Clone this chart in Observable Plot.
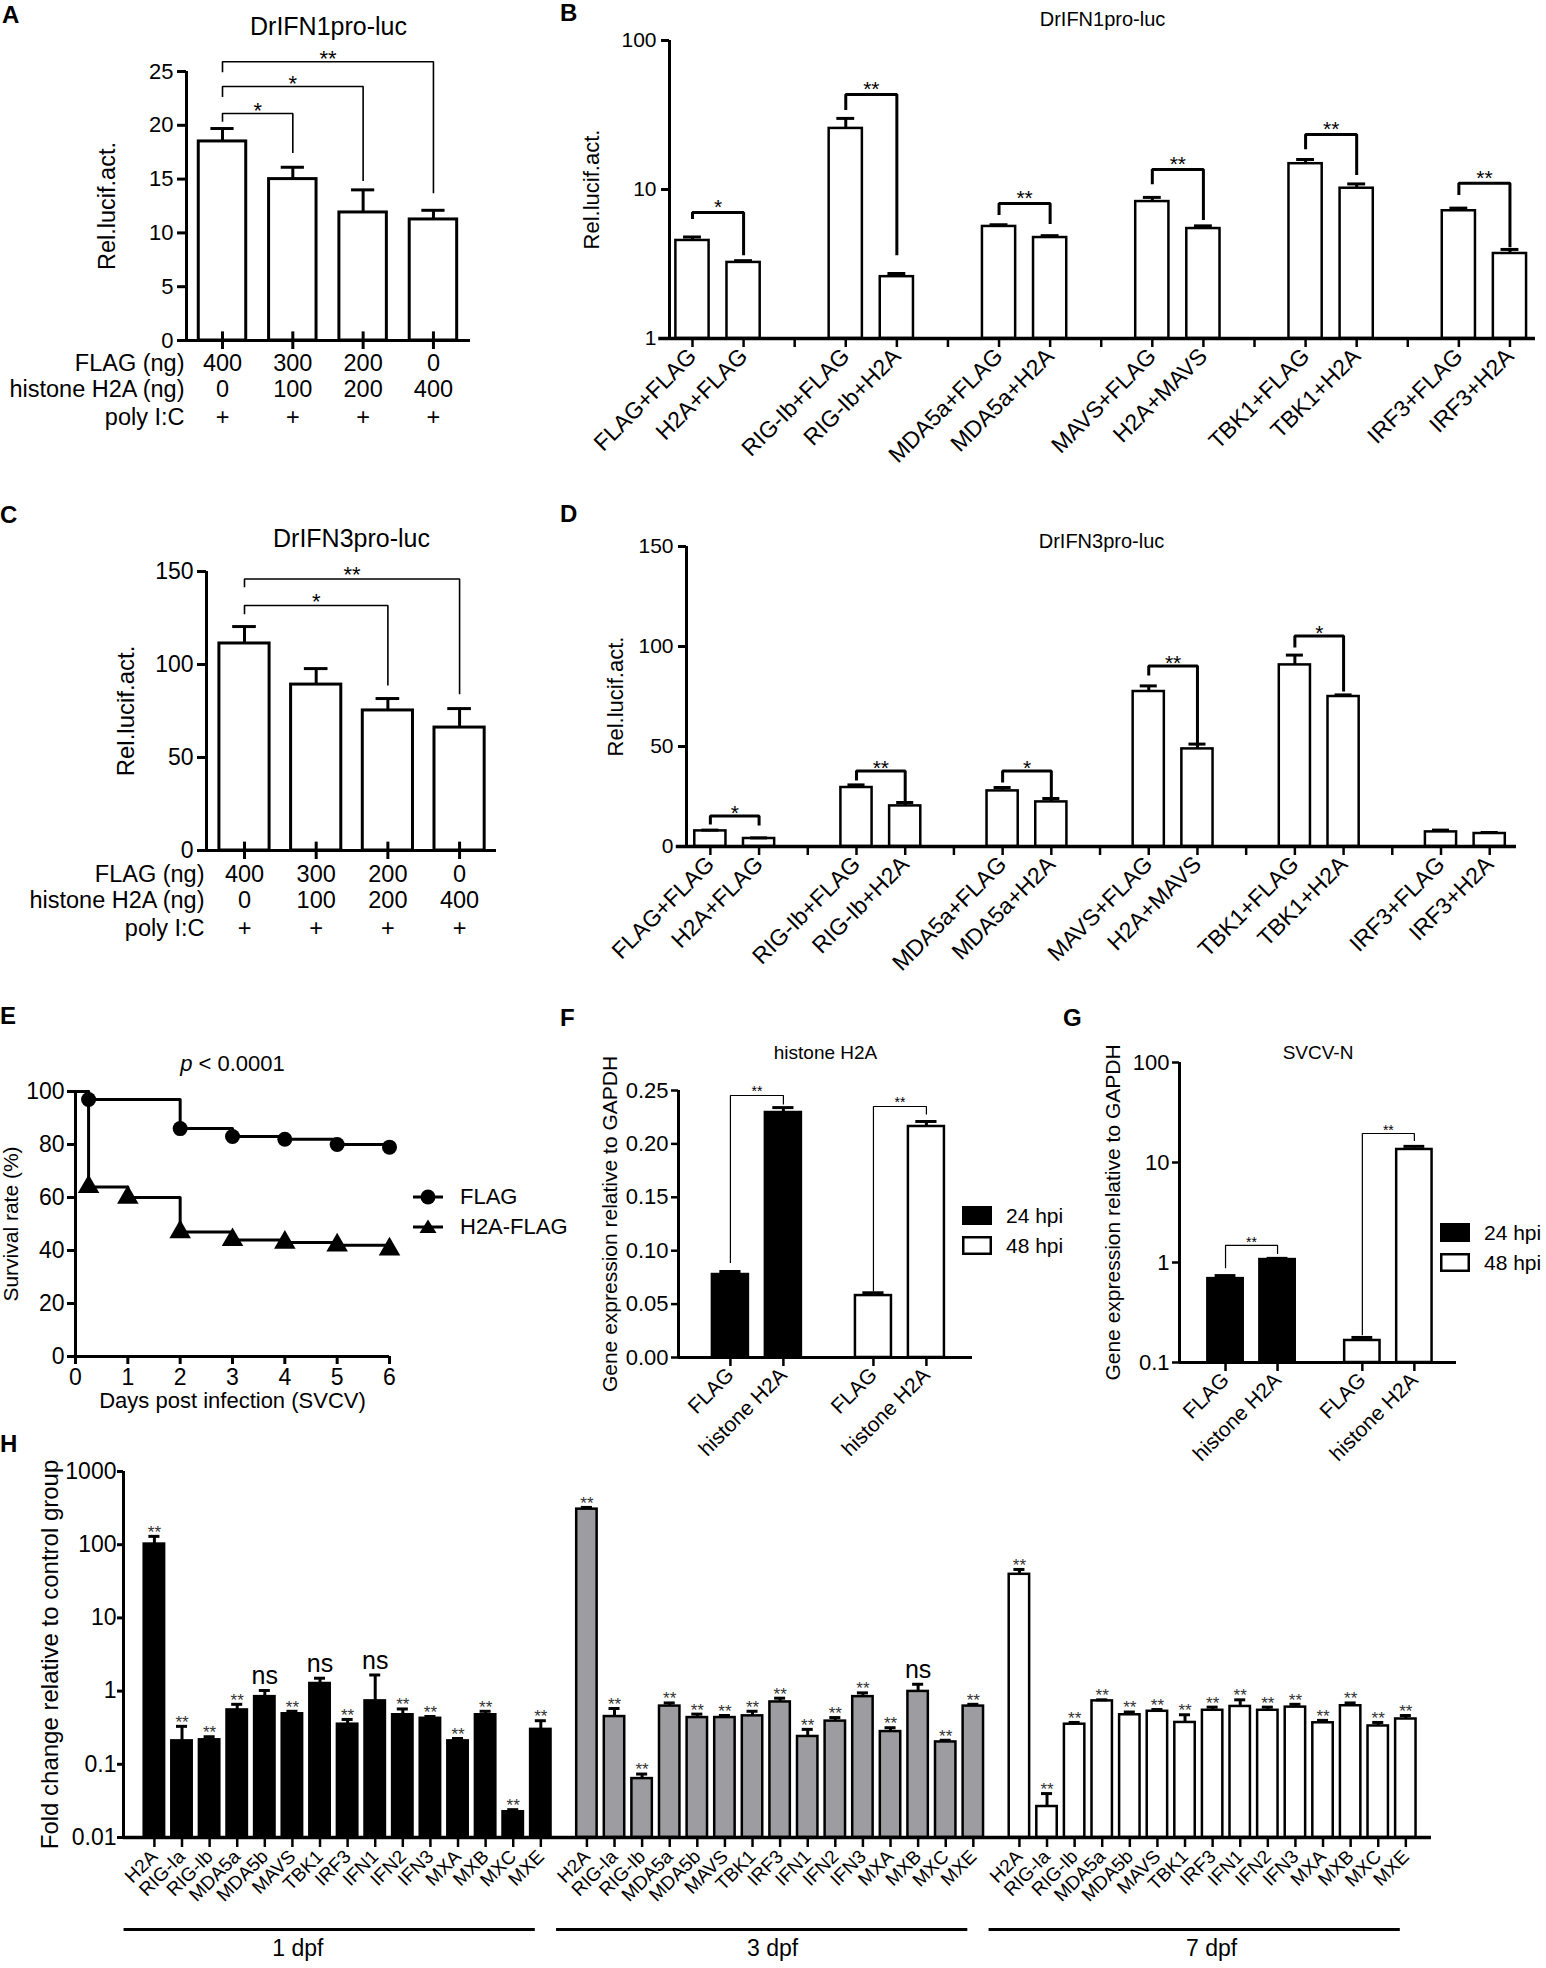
<!DOCTYPE html>
<html>
<head>
<meta charset="utf-8">
<script src="https://cdn.jsdelivr.net/npm/d3@7"></script>
<script src="https://cdn.jsdelivr.net/npm/@observablehq/plot@0.6"></script>
<style>
  html, body { margin: 0; padding: 0; background: #fff; }
  body { width: 1546px; height: 1968px; overflow: hidden; }
  #fig { position: relative; width: 1546px; height: 1968px; overflow: hidden; background: #fff; color: #000; font-family: "Liberation Sans", Arial, sans-serif; }
  #fig > * { position: absolute; }
  .letter { font-weight: bold; font-size: 24px; line-height: 1; }
  .leg { line-height: 1; white-space: nowrap; }
  .leg .row { display: flex; align-items: center; }
</style>
</head>
<body>
<div id="fig"></div>
<script>
const SANS = '"Liberation Sans", Arial, Helvetica, sans-serif';

// ---------------- DATA ----------------
// Panel A / C : dose table
const doseFlag = ["400", "300", "200", "0"];
const doseH2A = ["0", "100", "200", "400"];
const dosePoly = ["+", "+", "+", "+"];
// Panel A (DrIFN1pro-luc)
const aMean = [18.5, 15.0, 11.9, 11.25];
const aErr = [19.7, 16.1, 14.0, 12.1];
const aYTicks = [0, 5, 10, 15, 20, 25];
const aBrTo = [1, 2, 3];
const aBrTop = [21.1, 23.6, 25.9];
const aBrLeft = [20.4, 22.7, 25.0];
const aBrRight = [17.5, 14.9, 13.75];
const aBrLabel = ["*", "*", "**"];
// Panel C (DrIFN3pro-luc)
const cMean = [111.3, 89.2, 75.3, 66.1];
const cErr = [120.4, 97.8, 81.7, 76.3];
const cYTicks = [0, 50, 100, 150];
const cBrTo = [2, 3];
const cBrTop = [131.7, 146];
const cBrLeft = [127.4, 142];
const cBrRight = [89.2, 84.4];
const cBrLabel = ["*", "**"];
// Panels B / D : co-transfection
const lucLabels = ["FLAG+FLAG", "H2A+FLAG", "RIG-Ib+FLAG", "RIG-Ib+H2A", "MDA5a+FLAG", "MDA5a+H2A",
                   "MAVS+FLAG", "H2A+MAVS", "TBK1+FLAG", "TBK1+H2A", "IRF3+FLAG", "IRF3+H2A"];
const bMean = [4.55, 3.24, 25.7, 2.6, 5.65, 4.76, 8.3, 5.47, 14.9, 10.2, 7.2, 3.72];
const bErr = [4.8, 3.33, 30, 2.73, 5.8, 4.9, 8.85, 5.7, 15.9, 10.9, 7.5, 3.96];
const bYTicks = [1, 10, 100];
const bBrTop = [7.0, 43.4, 8.05, 13.6, 23.4, 11.0];
const bBrLeft = [6.5, 35, 6.9, 11.1, 19.1, 9.4];
const bBrRight = [3.7, 3.7, 6.0, 6.4, 12.8, 4.2];
const bBrLabel = ["*", "**", "**", "**", "**", "**"];
const dMean = [7.8, 4.0, 29.5, 20.3, 27.8, 22.3, 77.5, 48.8, 90.8, 75.0, 7.3, 6.5];
const dErr = [8.2, 4.3, 30.8, 22.0, 29.5, 24.0, 80.3, 51.2, 95.7, 75.8, 8.2, 7.0];
const dYTicks = [0, 50, 100, 150];
const dBrTop = [15.3, 37.8, 37.8, 90.3, 105.3];
const dBrLeft = [11.7, 33.7, 32.8, 86.2, 100.3];
const dBrRight = [11.2, 22.8, 23.7, 49.5, 78.2];
const dBrLabel = ["*", "**", "*", "**", "*"];
// Panel E : survival
const eDaysFlag = [0, 0.25, 2, 3, 4, 5, 6];
const eSurvFlag = [100, 97, 86, 83, 82, 80, 79];
const eDaysH2A = [0, 0.25, 1, 2, 3, 4, 5, 6];
const eSurvH2A = [100, 64, 60, 47, 44, 43, 42, 40.5];
const eXTicks = [0, 1, 2, 3, 4, 5, 6];
const eYTicks = [0, 20, 40, 60, 80, 100];
// Panels F / G : qPCR
const qLabels = ["FLAG", "histone H2A", "FLAG", "histone H2A"];
const qTime = ["24 hpi", "24 hpi", "48 hpi", "48 hpi"];
const fMean = [0.0777, 0.2294, 0.058, 0.2163];
const fErr = [0.0805, 0.234, 0.0606, 0.221];
const fYTicks = [0, 0.05, 0.10, 0.15, 0.20, 0.25];
const fBrTop = [0.2453, 0.235];
const fBrLeft = [0.089, 0.0625];
const fBrRight = [0.2375, 0.228];
const gMean = [0.69, 1.07, 0.166, 13.5];
const gErr = [0.74, 1.1, 0.178, 14.5];
const gYTicks = [0.1, 1, 10, 100];
const gBrTop = [1.48, 19.5];
const gBrLeft = [0.89, 0.19];
const gBrRight = [1.23, 16.6];
const qBrLabel = ["**", "**"];
// Panel H : fold change
const hGenes = ["H2A", "RIG-Ia", "RIG-Ib", "MDA5a", "MDA5b", "MAVS", "TBK1", "IRF3", "IFN1", "IFN2", "IFN3", "MXA", "MXB", "MXC", "MXE"];
const hDpf = ["1 dpf", "3 dpf", "7 dpf"];
const h1Mean = [102, 0.209, 0.216, 0.553, 0.84, 0.49, 1.27, 0.353, 0.735, 0.475, 0.425, 0.209, 0.475, 0.0225, 0.30];
const h1Err = [130, 0.33, 0.238, 0.66, 1.02, 0.53, 1.5, 0.41, 1.66, 0.57, 0.45, 0.225, 0.53, 0.024, 0.394];
const h1Sig = ["**", "**", "**", "**", "ns", "**", "ns", "**", "ns", "**", "**", "**", "**", "**", "**"];
const h3Mean = [306, 0.449, 0.0638, 0.624, 0.435, 0.435, 0.459, 0.711, 0.240, 0.389, 0.84, 0.28, 0.99, 0.202, 0.624];
const h3Err = [323, 0.578, 0.0736, 0.689, 0.485, 0.464, 0.53, 0.80, 0.30, 0.435, 0.946, 0.316, 1.24, 0.213, 0.66];
const h3Sig = ["**", "**", "**", "**", "**", "**", "**", "**", "**", "**", "**", "**", "ns", "**", "**"];
const h7Mean = [39.4, 0.0265, 0.353, 0.735, 0.475, 0.53, 0.373, 0.547, 0.617, 0.547, 0.604, 0.369, 0.631, 0.334, 0.416];
const h7Err = [45.9, 0.0398, 0.373, 0.76, 0.518, 0.56, 0.475, 0.604, 0.76, 0.604, 0.66, 0.398, 0.689, 0.373, 0.464];
const h7Sig = ["**", "**", "**", "**", "**", "**", "**", "**", "**", "**", "**", "**", "**", "**", "**"];
const hYTicks = [0.01, 0.1, 1, 10, 100, 1000];

// ---------------- HELPERS ----------------
const fig = document.getElementById("fig");
function place(node, left, top) { node.style.left = left + "px"; node.style.top = top + "px"; fig.appendChild(node); return node; }
function letter(t, left, top) { const d = document.createElement("div"); d.className = "letter"; d.textContent = t; place(d, left, top); }
const txt = (s, o) => Plot.text([s], {text: d => d, fill: "black", ...o});
const yLabel = (s, dx, fs) => txt(s, {frameAnchor: "left", dx, rotate: -90, textAnchor: "middle", fontSize: fs});

function bars(pos, mean, err, fills, o) {
  const rows = pos.map((p, i) => ({p, m: mean[i], e: err[i], f: fills[i]}));
  return [
    Plot.rect(rows, {x1: d => d.p - o.w / 2, x2: d => d.p + o.w / 2, y1: () => o.base, y2: d => d.m,
      fill: d => d.f, stroke: "black", strokeWidth: o.sw}),
    Plot.ruleX(rows, {x: d => d.p, y1: d => d.m, y2: d => d.e, stroke: "black", strokeWidth: o.esw}),
    Plot.ruleY(rows, {y: d => d.e, x1: d => d.p - o.cap / 2, x2: d => d.p + o.cap / 2, stroke: "black", strokeWidth: o.esw})
  ];
}
function brackets(from, to, top, left, right, labels, o) {
  const pts = [];
  from.forEach((f, i) => {
    pts.push({k: i, x: f, y: left[i]}, {k: i, x: f, y: top[i]}, {k: i, x: to[i], y: top[i]}, {k: i, x: to[i], y: right[i]});
  });
  const labs = from.map((f, i) => ({x: (f + to[i]) / 2, y: top[i], t: labels[i]}));
  return [
    Plot.line(pts, {x: "x", y: "y", z: "k", stroke: "black", strokeWidth: o.sw, strokeLinejoin: "miter", strokeLinecap: "square"}),
    Plot.text(labs, {x: "x", y: "y", text: "t", dy: o.dy, fontSize: o.fs, fill: o.fill || "black"})
  ];
}
const baseStyle = {fontFamily: SANS, background: "transparent", overflow: "visible", color: "black"};

// ---------------- PANEL A ----------------
const aPos = doseFlag.map((d, i) => i);
const aFrom = aBrTo.map(() => 0);
const plotA = Plot.plot({
  width: 480, height: 445, marginLeft: 186, marginRight: 10, marginTop: 71, marginBottom: 105,
  style: baseStyle, color: {type: "identity"},
  x: {type: "linear", domain: [-0.512, 3.527]},
  y: {type: "linear", domain: [0, 25]},
  marks: [
    ...bars(aPos, aMean, aErr, aPos.map(() => "white"), {w: 0.675, base: 0, sw: 3, esw: 3, cap: 0.33}),
    ...brackets(aFrom, aBrTo, aBrTop, aBrLeft, aBrRight, aBrLabel, {sw: 1.6, fs: 22, dy: -3}),
    Plot.ruleX([-0.512], {strokeWidth: 3}),
    Plot.ruleY([0], {x1: () => -0.64, x2: () => 3.527, strokeWidth: 3}),
    Plot.ruleX(aPos, {y1: () => 0, y2: () => 0.8, strokeWidth: 3}),
    Plot.axisY({ticks: aYTicks, tickSize: 9, tickPadding: 4, fontSize: 22, strokeWidth: 3, label: null}),
    Plot.axisX({ticks: aPos, tickSize: 9, tickFormat: () => "", strokeWidth: 3, label: null}),
    Plot.text(doseFlag, {x: (d, i) => aPos[i], text: d => d, frameAnchor: "bottom", dy: 30, fontSize: 23.5}),
    Plot.text(doseH2A, {x: (d, i) => aPos[i], text: d => d, frameAnchor: "bottom", dy: 56, fontSize: 23.5}),
    Plot.text(dosePoly, {x: (d, i) => aPos[i], text: d => d, frameAnchor: "bottom", dy: 84, fontSize: 23.5}),
    txt("FLAG (ng)", {frameAnchor: "bottom-left", textAnchor: "end", dy: 30, dx: -2, fontSize: 23.5}),
    txt("histone H2A (ng)", {frameAnchor: "bottom-left", textAnchor: "end", dy: 56, dx: -2, fontSize: 23.5}),
    txt("poly I:C", {frameAnchor: "bottom-left", textAnchor: "end", dy: 84, dx: -2, fontSize: 23.5}),
    txt("DrIFN1pro-luc", {frameAnchor: "top", dy: -54, fontSize: 25}),
    yLabel("Rel.lucif.act.", -79, 23.5)
  ]
});
place(plotA, 0, 0);

// ---------------- PANEL C ----------------
const cFrom = cBrTo.map(() => 0);
const plotC = Plot.plot({
  width: 510, height: 460, marginLeft: 206, marginRight: 14, marginTop: 71, marginBottom: 110,
  style: baseStyle, color: {type: "identity"},
  x: {type: "linear", domain: [-0.53, 3.515]},
  y: {type: "linear", domain: [0, 150]},
  marks: [
    ...bars(aPos, cMean, cErr, aPos.map(() => "white"), {w: 0.70, base: 0, sw: 3, esw: 3, cap: 0.33}),
    ...brackets(cFrom, cBrTo, cBrTop, cBrLeft, cBrRight, cBrLabel, {sw: 1.6, fs: 22, dy: -4}),
    Plot.ruleX([-0.53], {strokeWidth: 3}),
    Plot.ruleY([0], {x1: () => -0.64, x2: () => 3.515, strokeWidth: 3}),
    Plot.ruleX(aPos, {y1: () => 0, y2: () => 4.5, strokeWidth: 3}),
    Plot.axisY({ticks: cYTicks, tickSize: 9, tickPadding: 4, fontSize: 23, strokeWidth: 3, label: null}),
    Plot.axisX({ticks: aPos, tickSize: 9, tickFormat: () => "", strokeWidth: 3, label: null}),
    Plot.text(doseFlag, {x: (d, i) => aPos[i], text: d => d, frameAnchor: "bottom", dy: 31, fontSize: 23.5}),
    Plot.text(doseH2A, {x: (d, i) => aPos[i], text: d => d, frameAnchor: "bottom", dy: 57, fontSize: 23.5}),
    Plot.text(dosePoly, {x: (d, i) => aPos[i], text: d => d, frameAnchor: "bottom", dy: 85, fontSize: 23.5}),
    txt("FLAG (ng)", {frameAnchor: "bottom-left", textAnchor: "end", dy: 31, dx: -2, fontSize: 23.5}),
    txt("histone H2A (ng)", {frameAnchor: "bottom-left", textAnchor: "end", dy: 57, dx: -2, fontSize: 23.5}),
    txt("poly I:C", {frameAnchor: "bottom-left", textAnchor: "end", dy: 85, dx: -2, fontSize: 23.5}),
    txt("DrIFN3pro-luc", {frameAnchor: "top", dy: -42, fontSize: 25}),
    yLabel("Rel.lucif.act.", -80, 24)
  ]
});
place(plotC, 0, 500);

// ---------------- PANELS B / D ----------------
const lucPos = lucLabels.map((d, i) => Math.floor(i / 2) * 3 + (i % 2));
const lucSlots = d3.range(17);
const lucName = new Map(lucPos.map((p, i) => [p, lucLabels[i]]));
const lucWhite = lucLabels.map(() => "white");
const bFrom = bBrLabel.map((d, g) => g * 3), bTo = bBrLabel.map((d, g) => g * 3 + 1);
const plotB = Plot.plot({
  width: 986, height: 500, marginLeft: 109, marginRight: 11, marginTop: 40, marginBottom: 162,
  style: baseStyle, color: {type: "identity"},
  x: {type: "linear", domain: [-0.45, 16.5]},
  y: {type: "log", domain: [1, 100]},
  marks: [
    ...bars(lucPos, bMean, bErr, lucWhite, {w: 0.65, base: 1, sw: 2.5, esw: 3, cap: 0.35}),
    ...brackets(bFrom, bTo, bBrTop, bBrLeft, bBrRight, bBrLabel, {sw: 3, fs: 21, dy: -5}),
    Plot.ruleX([-0.45], {strokeWidth: 3}),
    Plot.ruleY([1], {x1: () => -0.66, x2: () => 16.5, strokeWidth: 3.5}),
    Plot.axisY({ticks: bYTicks, tickFormat: d => String(d), tickSize: 8, tickPadding: 5, fontSize: 21, strokeWidth: 3, label: null}),
    Plot.axisX({ticks: lucSlots, tickFormat: p => lucName.get(p) || "", tickSize: 9, tickPadding: 5, tickRotate: -45,
      fontSize: 23, strokeWidth: 2.5, label: null}),
    yLabel("Rel.lucif.act.", -78, 22),
    txt("DrIFN1pro-luc", {frameAnchor: "top", dy: -29, fontSize: 20})
  ]
});
place(plotB, 560, 0);

const dFrom = dBrLabel.map((d, g) => g * 3), dTo = dBrLabel.map((d, g) => g * 3 + 1);
const plotD = Plot.plot({
  width: 986, height: 500, marginLeft: 126, marginRight: 30, marginTop: 46, marginBottom: 154,
  style: baseStyle, color: {type: "identity"},
  x: {type: "linear", domain: [-0.49, 16.55]},
  y: {type: "linear", domain: [0, 150]},
  marks: [
    ...bars(lucPos, dMean, dErr, lucWhite, {w: 0.64, base: 0, sw: 2.5, esw: 3, cap: 0.35}),
    ...brackets(dFrom, dTo, dBrTop, dBrLeft, dBrRight, dBrLabel, {sw: 3, fs: 21, dy: -3}),
    Plot.ruleX([-0.49], {strokeWidth: 3}),
    Plot.ruleY([0], {x1: () => -0.7, x2: () => 16.55, strokeWidth: 3.5}),
    Plot.axisY({ticks: dYTicks, tickSize: 8, tickPadding: 5, fontSize: 21, strokeWidth: 3, label: null}),
    Plot.axisX({ticks: lucSlots, tickFormat: p => lucName.get(p) || "", tickSize: 9, tickPadding: 5, tickRotate: -45,
      fontSize: 23, strokeWidth: 2.5, label: null}),
    yLabel("Rel.lucif.act.", -71, 22),
    txt("DrIFN3pro-luc", {frameAnchor: "top", dy: -13, fontSize: 20})
  ]
});
place(plotD, 560, 500);

// ---------------- PANEL E ----------------
const eFlag = eDaysFlag.map((d, i) => ({d, s: eSurvFlag[i]}));
const eH2A = eDaysH2A.map((d, i) => ({d, s: eSurvH2A[i]}));
const plotE = Plot.plot({
  width: 560, height: 420, marginLeft: 75, marginRight: 171, marginTop: 91, marginBottom: 64,
  style: baseStyle,
  x: {type: "linear", domain: [0, 6]},
  y: {type: "linear", domain: [0, 100]},
  marks: [
    Plot.line(eFlag, {x: "d", y: "s", curve: "step-after", stroke: "black", strokeWidth: 3}),
    Plot.line(eH2A, {x: "d", y: "s", curve: "step-after", stroke: "black", strokeWidth: 3}),
    Plot.dot(eFlag.slice(1), {x: "d", y: "s", r: 7.5, fill: "black", symbol: "circle"}),
    Plot.dot(eH2A.slice(1), {x: "d", y: "s", r: 8, fill: "black", symbol: "triangle"}),
    Plot.ruleY([0], {strokeWidth: 3}),
    Plot.ruleX([0], {strokeWidth: 3}),
    Plot.axisX({ticks: eXTicks, tickFormat: d => String(d), tickSize: 8, tickPadding: 4, fontSize: 23, strokeWidth: 3, label: null}),
    Plot.axisY({ticks: eYTicks, tickFormat: d => String(d), tickSize: 8, tickPadding: 3, fontSize: 23, strokeWidth: 3, label: null}),
    txt("Days post infection (SVCV)", {frameAnchor: "bottom", dy: 51, fontSize: 22}),
    yLabel("Survival rate (%)", -64, 21),
    txt("p", {frameAnchor: "top", dx: -40, dy: -36, fontSize: 22, fontStyle: "italic", textAnchor: "end"}),
    txt("< 0.0001", {frameAnchor: "top", dx: -34, dy: -36, fontSize: 22, textAnchor: "start"})
  ]
});
place(plotE, 0, 1000);

// legend E
(function () {
  const leg = document.createElement("div");
  leg.className = "leg";
  leg.style.fontSize = "22px";
  const rows = [["FLAG", "circle"], ["H2A-FLAG", "triangle"]];
  leg.innerHTML = rows.map(([name, sym]) => {
    const mark = sym === "circle" ? '<circle cx="16" cy="11" r="7.5" fill="#000"/>'
      : '<path d="M16,3.5 L24.5,17 L7.5,17 Z" fill="#000"/>';
    return `<div class="row" style="height:30px"><svg width="32" height="22" style="margin-right:16px"><line x1="1" y1="11" x2="31" y2="11" stroke="#000" stroke-width="3"/>${mark}</svg><span>${name}</span></div>`;
  }).join("");
  place(leg, 412, 1182);
})();

// ---------------- PANEL F ----------------
const fPos = [0, 1, 2.7, 3.7];
const qFill = qTime.map(t => t === "24 hpi" ? "black" : "white");
const fName = new Map(fPos.map((p, i) => [p, qLabels[i]]));
const plotF = Plot.plot({
  width: 440, height: 420, marginLeft: 118, marginRight: 28, marginTop: 90, marginBottom: 63,
  style: baseStyle, color: {type: "identity"},
  x: {type: "linear", domain: [-0.98, 4.57]},
  y: {type: "linear", domain: [0, 0.25]},
  marks: [
    ...bars(fPos, fMean, fErr, qFill, {w: 0.68, base: 0, sw: 2.5, esw: 3, cap: 0.4}),
    ...brackets([fPos[0], fPos[2]], [fPos[1], fPos[3]], fBrTop, fBrLeft, fBrRight, qBrLabel, {sw: 1.2, fs: 14, dy: -4}),
    Plot.ruleX([-0.98], {strokeWidth: 3}),
    Plot.ruleY([0], {strokeWidth: 3}),
    Plot.axisY({ticks: fYTicks, tickFormat: d3.format(".2f"), tickSize: 7, tickPadding: 3, fontSize: 22, strokeWidth: 2.5, label: null}),
    Plot.axisX({ticks: fPos, tickFormat: p => fName.get(p), tickSize: 9, tickPadding: 5, tickRotate: -45,
      fontSize: 21, strokeWidth: 2.5, label: null}),
    yLabel("Gene expression relative to GAPDH", -68, 21),
    txt("histone H2A", {frameAnchor: "top", dy: -45, fontSize: 19})
  ]
});
place(plotF, 560, 1000);

// ---------------- PANEL G ----------------
const gPos = [0, 1, 2.63, 3.63];
const gName = new Map(gPos.map((p, i) => [p, qLabels[i]]));
const plotG = Plot.plot({
  width: 546, height: 420, marginLeft: 179, marginRight: 90, marginTop: 62, marginBottom: 58,
  style: baseStyle, color: {type: "identity"},
  x: {type: "linear", domain: [-0.885, 4.44]},
  y: {type: "log", domain: [0.1, 100]},
  marks: [
    ...bars(gPos, gMean, gErr, qFill, {w: 0.68, base: 0.1, sw: 2.5, esw: 3, cap: 0.4}),
    ...brackets([gPos[0], gPos[2]], [gPos[1], gPos[3]], gBrTop, gBrLeft, gBrRight, qBrLabel, {sw: 1.2, fs: 14, dy: -3}),
    Plot.ruleX([-0.885], {strokeWidth: 3}),
    Plot.ruleY([0.1], {strokeWidth: 3}),
    Plot.axisY({ticks: gYTicks, tickFormat: d => String(d), tickSize: 7, tickPadding: 3, fontSize: 22, strokeWidth: 2.5, label: null}),
    Plot.axisX({ticks: gPos, tickFormat: p => gName.get(p), tickSize: 9, tickPadding: 5, tickRotate: -45,
      fontSize: 21, strokeWidth: 2.5, label: null}),
    yLabel("Gene expression relative to GAPDH", -66, 21),
    txt("SVCV-N", {frameAnchor: "top", dy: -17, fontSize: 19})
  ]
});
place(plotG, 1000, 1000);

// legends F / G
function qLegend(left, top) {
  const leg = document.createElement("div");
  leg.className = "leg";
  leg.style.fontSize = "21px";
  leg.innerHTML = ["24 hpi", "48 hpi"].map((t, i) =>
    `<div class="row" style="height:30px"><svg width="30" height="19" style="margin-right:14px"><rect x="1.25" y="1.25" width="27.5" height="16.5" fill="${i === 0 ? "#000" : "#fff"}" stroke="#000" stroke-width="2.5"/></svg><span>${t}</span></div>`).join("");
  place(leg, left, top);
}
qLegend(962, 1200);
qLegend(1440, 1217);

// ---------------- PANEL H ----------------
const hOff = 15.67;
const hSets = [[h1Mean, h1Err, h1Sig, "black"], [h3Mean, h3Err, h3Sig, "#9d9da1"], [h7Mean, h7Err, h7Sig, "white"]];
const hPos = [], hMeanAll = [], hErrAll = [], hFill = [], hSig = [];
hSets.forEach(([m, e, s, f], g) => hGenes.forEach((gene, k) => {
  hPos.push(g * hOff + k); hMeanAll.push(m[k]); hErrAll.push(e[k]); hFill.push(f); hSig.push(s[k]);
}));
const hName = new Map(hPos.map((p, i) => [p, hGenes[i % hGenes.length]]));
const hSigRows = hPos.map((p, i) => ({p, e: hErrAll[i], s: hSig[i]}));
const hDpfLabelPos = [5.2, 22.4, 38.3];
const plotH = Plot.plot({
  width: 1546, height: 548, marginLeft: 123, marginRight: 115, marginTop: 51, marginBottom: 131,
  style: baseStyle, color: {type: "identity"},
  x: {type: "linear", domain: [-1.12, 46.27]},
  y: {type: "log", domain: [0.01, 1000]},
  marks: [
    ...bars(hPos, hMeanAll, hErrAll, hFill, {w: 0.74, base: 0.01, sw: 2.5, esw: 3, cap: 0.4}),
    Plot.text(hSigRows.filter(d => d.s === "**"), {x: "p", y: "e", text: "s", dy: -4, fontSize: 17, fill: "#333"}),
    Plot.text(hSigRows.filter(d => d.s === "ns"), {x: "p", y: "e", text: "s", dy: -14, fontSize: 25, fill: "black"}),
    Plot.ruleX([-1.12], {strokeWidth: 3}),
    Plot.ruleY([0.01], {strokeWidth: 3.5}),
    Plot.axisY({ticks: hYTicks, tickFormat: d => String(d), tickSize: 6, tickPadding: 1, fontSize: 23, strokeWidth: 3, label: null}),
    Plot.axisX({ticks: hPos, tickFormat: p => hName.get(p), tickSize: 10, tickPadding: 6, tickRotate: -45, fontSize: 19, strokeWidth: 2.5, label: null}),
    Plot.ruleY(hDpf, {y: () => 0.01, x1: (d, g) => g * hOff - 1.1, x2: (d, g) => g * hOff + 13.8, dy: 92, strokeWidth: 3}),
    Plot.text(hDpf, {x: (d, g) => hDpfLabelPos[g], text: d => d, frameAnchor: "bottom", dy: 118, fontSize: 23}),
    yLabel("Fold change relative to control group", -73, 24)
  ]
});
place(plotH, 0, 1420);

// ---------------- PANEL LETTERS ----------------
letter("A", 2, 3); letter("B", 560, 1); letter("C", 0, 503); letter("D", 560, 502);
letter("E", 0, 1004); letter("F", 560, 1006); letter("G", 1063, 1006); letter("H", 0, 1432);
</script>
</body>
</html>
